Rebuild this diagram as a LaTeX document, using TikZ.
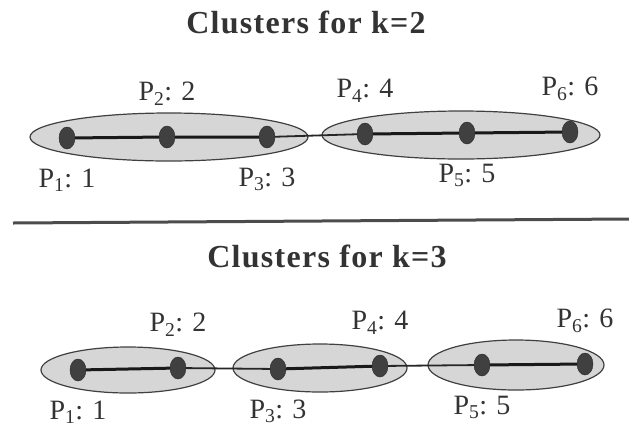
\documentclass[tikz,border=0pt]{standalone}
\usepackage{fontspec}
\setmainfont{Liberation Serif}
\newfontfamily\titlefont[LetterSpace=4]{Liberation Serif}
\usetikzlibrary{positioning,shapes.geometric}
\tikzset{
  cluster/.style={ellipse, draw=black!75, line width=1.2pt, fill=black!16, inner sep=0pt},
  dot/.style={ellipse, draw=black!85, fill=black!75, minimum width=16pt, minimum height=22pt, inner sep=0pt},
  link/.style={line width=3pt, black!90},
  bridge/.style={line width=1.8pt, black!85},
  rule/.style={line width=3pt, black!70},
  lbl/.style={text=black!80, font=\fontsize{28}{30}\selectfont, inner sep=0pt},
  ttl/.style={text=black!80, font=\titlefont\bfseries\fontsize{32}{36}\selectfont, inner sep=0pt, anchor=base},
}
\begin{document}
\begin{tikzpicture}[x=1pt, y=-1pt]
    \useasboundingbox (0,0) rectangle (629,440);

    \node[ttl] (t2) at (306,33) {Clusters for k=2};
    \node[cluster, minimum width=278pt, minimum height=48pt] (ga) at (169,137) {};
    \node[cluster, minimum width=278pt, minimum height=48pt] (gb) at (461,135) {};

    \foreach \i/\x/\y in {1/67/138, 2/167/137, 3/267/137, 4/365/134, 5/467/133, 6/570/132}
        \node[dot] (a\i) at (\x,\y) {};

    \draw[link] (a1) -- (a2) -- (a3);
    \draw[bridge] (a3) -- (a4);
    \draw[link] (a4) -- (a5) -- (a6);

    \foreach \i in {1,3,5}
        \node[lbl, below=38pt of a\i, anchor=base] (la\i) {P\textsubscript{\i}: \i};
    \foreach \i in {2,4,6}
        \node[lbl, above=25pt of a\i, anchor=base] (la\i) {P\textsubscript{\i}: \i};

    \draw[rule] (13,223) -- (629,219);

    \node[ttl] (t3) at (327,267) {Clusters for k=3};
    \node[cluster, minimum width=174pt, minimum height=46pt] (gc) at (128,370) {};
    \node[cluster, minimum width=174pt, minimum height=48pt] (gd) at (320,368) {};
    \node[cluster, minimum width=176pt, minimum height=50pt] (ge) at (516,365) {};

    \foreach \i/\x/\y in {1/78/370, 2/178/368, 3/278/369, 4/380/366, 5/482/365, 6/585/364}
        \node[dot] (b\i) at (\x,\y) {};

    \draw[link] (b1) -- (b2);
    \draw[bridge] (b2) -- (b3);
    \draw[link] (b3) -- (b4);
    \draw[bridge] (b4) -- (b5);
    \draw[link] (b5) -- (b6);

    \foreach \i in {1,3,5}
        \node[lbl, below=38pt of b\i, anchor=base] (lb\i) {P\textsubscript{\i}: \i};
    \foreach \i in {2,4,6}
        \node[lbl, above=25pt of b\i, anchor=base] (lb\i) {P\textsubscript{\i}: \i};
\end{tikzpicture}
\end{document}
